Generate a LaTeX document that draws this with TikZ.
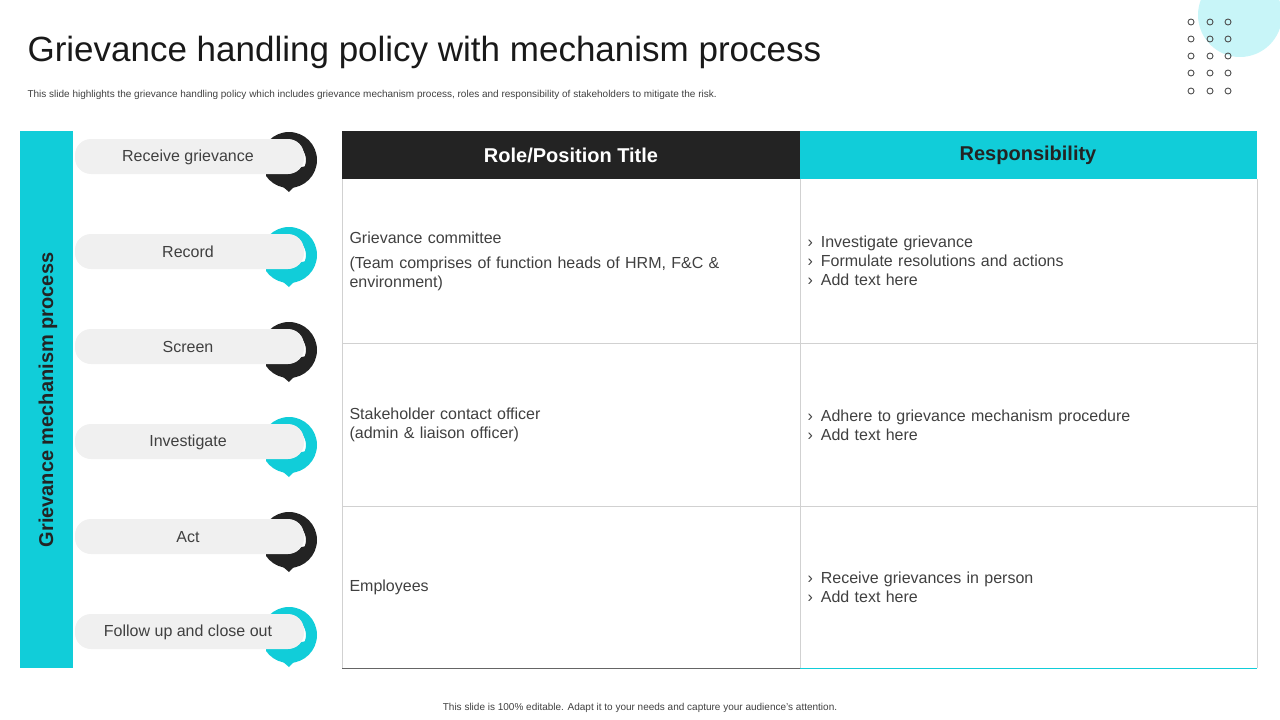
\documentclass[tikz,border=0pt]{standalone}
\usepackage{fontspec}
\setmainfont{Liberation Sans}
\definecolor{cyanc}{HTML}{11CDD9}
\definecolor{darkc}{HTML}{232323}
\definecolor{barc}{HTML}{F0F0F0}
\definecolor{textc}{HTML}{404040}
\definecolor{ringc}{HTML}{C8F5F8}
\begin{document}
\begin{tikzpicture}[x=1pt,y=-1pt,
    step label/.style={text=textc, font=\fontsize{16}{19}\selectfont},
    cell/.style={anchor=west, text=textc, align=left, font=\fontsize{16}{19}\selectfont, text width=400pt},
    head/.style={font=\bfseries\fontsize{20}{24}\selectfont},
    grid line/.style={draw=black!18, line width=0.8pt}
]
\useasboundingbox (0,0) rectangle (1280,720);
\fill[ringc] (1240,15) circle (42);
\foreach \x in {1191,1210,1228}
  \foreach \y in {22,39,56,73,91}
    \draw[darkc!80, line width=0.9pt] (\x,\y) circle (3);

\node[anchor=west, font=\fontsize{35}{40}\selectfont, text=black!90] (title) at (24,52) {Grievance handling policy with mechanism process};
\node[anchor=west, font=\fontsize{10}{12}\selectfont, text=textc] (sub) at (24,95) {This slide highlights the grievance handling policy which includes grievance mechanism process, roles and responsibility of stakeholders to mitigate the risk.};

% left bar
\fill[cyanc] (20,131) rectangle (73,668);
\node[rotate=90, head, text=darkc] (side) at (48,400) {Grievance mechanism process};

% steps
\foreach \y/\c/\t [count=\i] in {157/darkc/Receive grievance, 252/cyanc/Record, 347/darkc/Screen, 442/cyanc/Investigate, 537/darkc/Act, 632/cyanc/Follow up and close out} {
  \begin{scope}
    \clip (266,\y-40) rectangle (330,\y+40);
    \fill[\c, even odd rule] (289,\y+3) circle (28) (289,\y+3) circle (17);
  \end{scope}
  \fill[\c] (268,\y+17) -- (316,\y+7) -- (289,\y+35) -- cycle;
  \fill[barc, rounded corners=16pt] (75,\y-18) rectangle (304,\y+17);
  \node[step label] (s\i) at (188,\y) {\t};
}

% table
\fill[darkc] (342,131) rectangle (800,179);
\fill[cyanc] (800,131) rectangle (1257,179);
\node[head, text=white] (h1) at (571,155) {Role/Position Title};
\node[head, text=darkc] (h2) at (1028,155) {Responsibility};
\draw[grid line] (342,179) -- (342,668) (800,179) -- (800,668) (1257,179) -- (1257,668);
\draw[grid line] (342,343) -- (1257,343) (342,506) -- (1257,506);
\draw[darkc!70, line width=1pt] (342,668) -- (800,668);
\draw[cyanc, line width=1pt] (800,668) -- (1257,668);

\node[cell] (r1) at (346,261) {Grievance committee\\[6pt](Team comprises of function heads of HRM, F\&C \&\\environment)};
\node[cell] (r2) at (346,425) {Stakeholder contact officer\\(admin \& liaison officer)};
\node[cell] (r3) at (346,587) {Employees};
\node[cell] (p1) at (804,261) {›\enspace Investigate grievance\\›\enspace Formulate resolutions and actions\\›\enspace Add text here};
\node[cell] (p2) at (804,425) {›\enspace Adhere to grievance mechanism procedure\\›\enspace Add text here};
\node[cell] (p3) at (804,587) {›\enspace Receive grievances in person\\›\enspace Add text here};

\node[font=\fontsize{10}{12}\selectfont, text=textc] (foot) at (640,708) {This slide is 100\% editable. Adapt it to your needs and capture your audience's attention.};
\end{tikzpicture}
\end{document}
